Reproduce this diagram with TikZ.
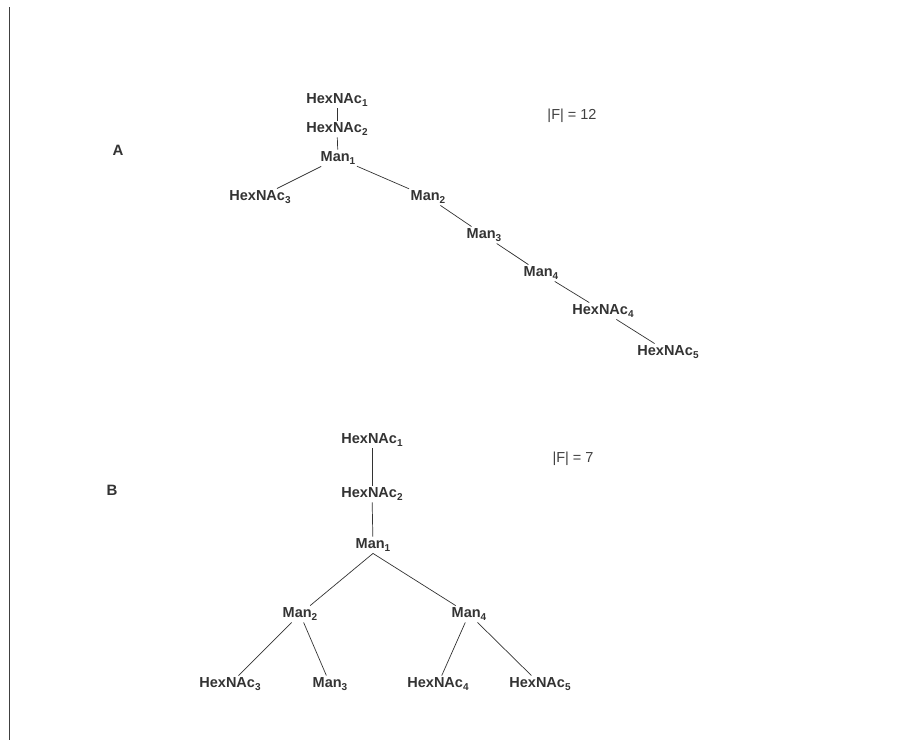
\documentclass[tikz,border=0pt]{standalone}
\usepackage{fontspec}
\setmainfont{Liberation Sans}
\newcommand\idx[1]{\raisebox{-0.45ex}{\fontsize{10}{12}\selectfont #1}}

\begin{document}
\begin{tikzpicture} [x = 1pt, y = -1pt,
	sugar/.style = {font = \fontsize{14.5}{16}\selectfont\bfseries,
		text = black!80,
		inner sep = 1.5pt},
	bond/.style = {draw = black!80, line width = 0.7pt},
	panel/.style = {font = \fontsize{15}{17}\selectfont\bfseries, text = black!80},
	count/.style = {font = \fontsize{14.5}{16}\selectfont, text = black!75}]

	\useasboundingbox (0,0) rectangle (901,740);
	\draw [black!75, line width = 0.9pt] (9,7) -- (9,740);

	% tree A
	\node (A) at (118,150) [panel] {A};
	\node (FA) at (572,116) [count] {|F| = 12};

	\node (a-h1) at (337,100) [sugar] {HexNAc\idx{1}};
	\node (a-h2) at (337,129) [sugar] {HexNAc\idx{2}};
	\node (a-m1) at (338,158) [sugar] {Man\idx{1}};
	\node (a-h3) at (260,197) [sugar] {HexNAc\idx{3}};
	\node (a-m2) at (428,197) [sugar] {Man\idx{2}};
	\node (a-m3) at (484,235) [sugar] {Man\idx{3}};
	\node (a-m4) at (541,273) [sugar] {Man\idx{4}};
	\node (a-h4) at (603,311) [sugar] {HexNAc\idx{4}};
	\node (a-h5) at (668,352) [sugar] {HexNAc\idx{5}};

	\draw [bond] (a-h1) -- (a-h2);
	\draw [bond] (a-h2) -- (a-m1);
	\draw [bond] (a-m1) -- (a-h3);
	\draw [bond] (a-m1) -- (a-m2);
	\draw [bond] (a-m2) -- (a-m3);
	\draw [bond] (a-m3) -- (a-m4);
	\draw [bond] (a-m4) -- (a-h4);
	\draw [bond] (a-h4) -- (a-h5);

	% tree B
	\node (B) at (112,490) [panel] {B};
	\node (FB) at (573,459) [count] {|F| = 7};

	\node (b-h1) at (372,440) [sugar] {HexNAc\idx{1}};
	\node (b-h2) at (372,494) [sugar] {HexNAc\idx{2}};
	\node (b-m1) at (373,545) [sugar] {Man\idx{1}};
	\node (b-m2) at (300,614) [sugar] {Man\idx{2}};
	\node (b-m4) at (469,614) [sugar] {Man\idx{4}};
	\node (b-h3) at (230,684) [sugar] {HexNAc\idx{3}};
	\node (b-m3) at (330,684) [sugar] {Man\idx{3}};
	\node (b-h4) at (438,684) [sugar] {HexNAc\idx{4}};
	\node (b-h5) at (540,684) [sugar] {HexNAc\idx{5}};

	\draw [bond] (b-h1) -- (b-h2);
	\draw [bond] (b-h2) -- (b-m1);
	\draw [bond] (b-m1.south) -- (b-m2);
	\draw [bond] (b-m1.south) -- (b-m4);
	\draw [bond] (b-m2) -- (b-h3);
	\draw [bond] (b-m2) -- (b-m3);
	\draw [bond] (b-m4) -- (b-h4);
	\draw [bond] (b-m4) -- (b-h5);

\end{tikzpicture}
\end{document}
